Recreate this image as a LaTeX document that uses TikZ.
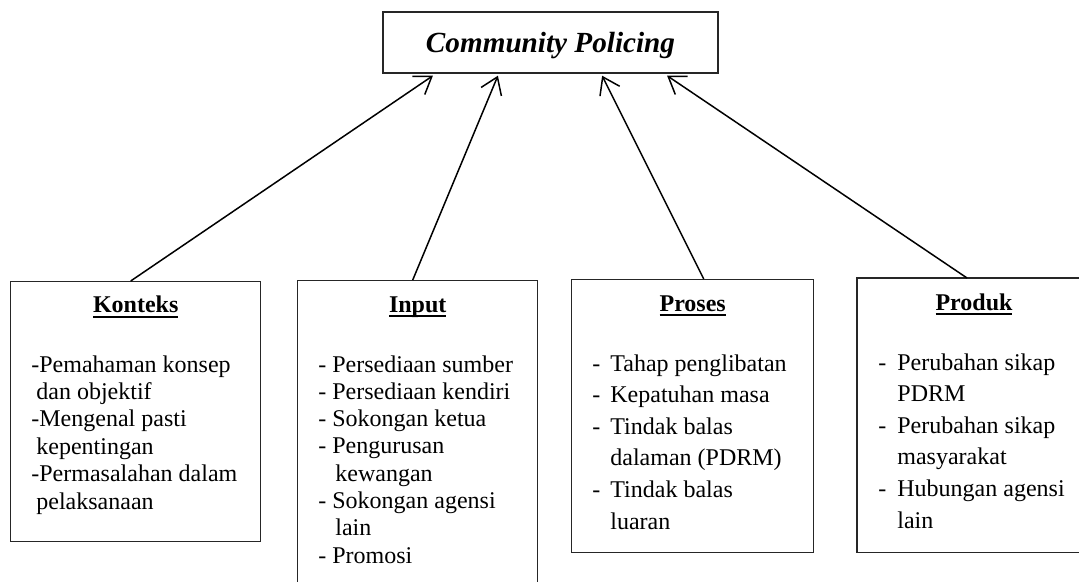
\documentclass[tikz,border=0pt]{standalone}
\usepackage{fontspec}
\setmainfont{Liberation Serif}
\usetikzlibrary{arrows.meta,positioning}
\newsavebox{\hdbox}
\newcommand{\headline}[1]{\sbox{\hdbox}{#1}\rlap{\rule[-2.6pt]{\wd\hdbox}{0.9pt}}\usebox{\hdbox}}

\begin{document}
\begin{tikzpicture}[x=0.5pt, y=-0.5pt,
  box/.style={draw=black!85, line width=0.7pt, anchor=north west, inner sep=0pt},
  head/.style={anchor=base, font=\fontsize{12}{14}\selectfont\bfseries},
  items/.style={anchor=base west, inner sep=0pt, align=left},
  arr/.style={-{Straight Barb[length=8pt,width=11pt]}, line width=0.75pt},
]
\useasboundingbox (0,0) rectangle (1079,582);
\clip (0,0) rectangle (1079,582);

% Top box
\node[draw=black!85, line width=0.7pt, minimum width=167.5pt, minimum height=30.5pt, inner sep=0pt, text depth=0pt,
  font=\fontsize{14.6}{17}\selectfont\bfseries\itshape] (cp) at (550.5,42.5) {Community Policing};

% Boxes (bottom)
\node[box, minimum width=125pt, minimum height=130pt] (konteks) at (10,281) {};
\node[box, minimum width=120pt, minimum height=160pt] (input) at (297,280) {};
\node[box, minimum width=121pt, minimum height=136.5pt] (proses) at (571,279) {};
\node[box, draw=none, minimum width=135pt, minimum height=136.5pt] (produk) at (857,278) {};
% last box runs off the page on the right
\draw[draw=black!85, line width=0.7pt] (produk.north east) -- (produk.north west) -- (produk.south west) -- (produk.south east);

% Headings
\node[head] (konteksT) at ([yshift=-16pt]konteks.north) {\headline{Konteks}};
\node[head] (inputT) at ([yshift=-16pt]input.north) {\headline{Input}};
\node[head] (prosesT) at ([yshift=-16pt]proses.north) {\headline{Proses}};
\node[head] (produkT) at ([xshift=58.5pt,yshift=-16pt]produk.north west) {\headline{Produk}};

% Lists
\node[items, font=\fontsize{12}{13.7}\selectfont] (konteksL) at ([xshift=10.5pt,yshift=-45.5pt]konteks.north west)
  {\begin{tabular}[t]{@{}l@{}}
   -Pemahaman konsep\\ \hspace*{2.5pt}dan objektif\\
   -Mengenal pasti\\ \hspace*{2.5pt}kepentingan\\
   -Permasalahan dalam\\ \hspace*{2.5pt}pelaksanaan
   \end{tabular}};
\node[items, font=\fontsize{12}{13.65}\selectfont] (inputL) at ([xshift=10.5pt,yshift=-46pt]input.north west)
  {\begin{tabular}[t]{@{}l@{}}
   - Persediaan sumber\\ - Persediaan kendiri\\ - Sokongan ketua\\
   - Pengurusan\\ \hspace*{8.5pt}kewangan\\
   - Sokongan agensi\\ \hspace*{8.5pt}lain\\
   - Promosi
   \end{tabular}};
\node[items, font=\fontsize{12}{15.8}\selectfont] (prosesL) at ([xshift=10.5pt,yshift=-46pt]proses.north west)
  {\begin{tabular}[t]{@{}p{9pt}@{}l@{}}
   - & Tahap penglibatan\\ - & Kepatuhan masa\\
   - & Tindak balas\\ & dalaman (PDRM)\\
   - & Tindak balas\\ & luaran
   \end{tabular}};
\node[items, font=\fontsize{12}{15.8}\selectfont] (produkL) at ([xshift=10.5pt,yshift=-46pt]produk.north west)
  {\begin{tabular}[t]{@{}p{9.5pt}@{}l@{}}
   - & Perubahan sikap\\ & PDRM\\
   - & Perubahan sikap\\ & masyarakat\\
   - & Hubungan agensi\\ & lain
   \end{tabular}};

% Arrows
\draw[arr] ([xshift=-2.5pt]konteks.north) -- ([xshift=-58.8pt,yshift=-1pt]cp.south);
\draw[arr] ([xshift=-2.5pt]input.north) -- ([xshift=-26.3pt,yshift=-1pt]cp.south);
\draw[arr] ([xshift=5.5pt]proses.north) -- ([xshift=25.8pt,yshift=-1pt]cp.south);
\draw[arr] ([xshift=55pt]produk.north west) -- ([xshift=58.3pt,yshift=-1pt]cp.south);
\end{tikzpicture}
\end{document}
